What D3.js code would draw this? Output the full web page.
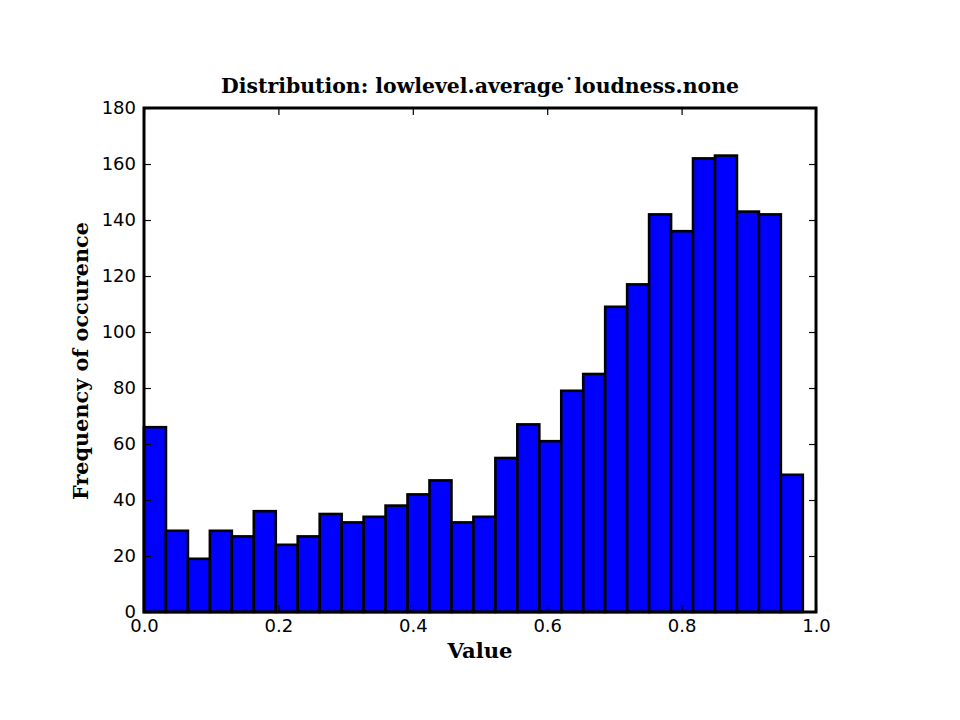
<!DOCTYPE html>
<html><head><meta charset="utf-8">
<script src="https://cdn.jsdelivr.net/npm/d3@7"></script>
<style>body{margin:0;background:#fff}svg{display:block}</style>
</head><body>
<script>
const counts = [66,29,19,29,27,36,24,27,35,32,34,38,42,47,32,34,55,67,61,79,85,109,117,142,136,162,163,143,142,49];
const binStart = 0.0, binEnd = 0.9804;
const xTicks = [0.0,0.2,0.4,0.6,0.8,1.0];
const yTicks = [0,20,40,60,80,100,120,140,160,180];
const titleText = "Distribution: lowlevel.average˙loudness.none";
const xLabel = "Value", yLabel = "Frequency of occurence";

const W=960,H=720, L=144,R=816,T=108,B=612;
const svg=d3.select("body").append("svg").attr("width",W).attr("height",H);
const x=d3.scaleLinear().domain([0,1]).range([L,R]);
const y=d3.scaleLinear().domain([0,180]).range([B,T]);
const bw=(binEnd-binStart)/counts.length;
const bins=counts.map((c,i)=>({x0:binStart+i*bw,x1:binStart+(i+1)*bw,c}));

svg.append("g").selectAll("rect").data(bins).join("rect")
 .attr("x",d=>x(d.x0)).attr("width",d=>x(d.x1)-x(d.x0))
 .attr("y",d=>y(d.c)).attr("height",d=>y(0)-y(d.c))
 .attr("fill","#0000ff").attr("stroke","#000").attr("stroke-width",2.6);

const tk=7;
const xa=svg.append("g").attr("transform",`translate(0,${B})`)
 .call(d3.axisBottom(x).tickValues(xTicks).tickFormat(d3.format(".1f")).tickSizeInner(-tk).tickSizeOuter(0).tickPadding(7));
const xt=svg.append("g").attr("transform",`translate(0,${T})`)
 .call(d3.axisTop(x).tickValues(xTicks).tickFormat("").tickSizeInner(-tk).tickSizeOuter(0));
const ya=svg.append("g").attr("transform",`translate(${L},0)`)
 .call(d3.axisLeft(y).tickValues(yTicks).tickFormat(d3.format("d")).tickSizeInner(-tk).tickSizeOuter(0).tickPadding(8));
const yr=svg.append("g").attr("transform",`translate(${R},0)`)
 .call(d3.axisRight(y).tickValues(yTicks).tickFormat("").tickSizeInner(-tk).tickSizeOuter(0));
[xa,xt,ya,yr].forEach(g=>{g.select(".domain").remove();g.selectAll(".tick line").attr("stroke","#000").attr("stroke-width",1.2);
 g.selectAll("text").attr("font-family","DejaVu Sans").attr("font-size",18).attr("fill","#000");});

svg.append("rect").attr("x",L).attr("y",T).attr("width",R-L).attr("height",B-T)
 .attr("fill","none").attr("stroke","#000").attr("stroke-width",3);

svg.append("text").attr("x",480).attr("y",93).attr("text-anchor","middle")
 .attr("font-family","DejaVu Serif").attr("font-weight","bold").attr("font-size",20)
 .attr("textLength",518).attr("lengthAdjust","spacingAndGlyphs").text(titleText);
svg.append("text").attr("x",480).attr("y",658).attr("text-anchor","middle")
 .attr("font-family","DejaVu Serif").attr("font-weight","bold").attr("font-size",21)
 .attr("textLength",65).attr("lengthAdjust","spacingAndGlyphs").text(xLabel);
svg.append("text").attr("transform","translate(88,361) rotate(-90)").attr("text-anchor","middle")
 .attr("font-family","DejaVu Serif").attr("font-weight","bold").attr("font-size",21)
 .attr("textLength",278).attr("lengthAdjust","spacingAndGlyphs").text(yLabel);
</script>
</body></html>
